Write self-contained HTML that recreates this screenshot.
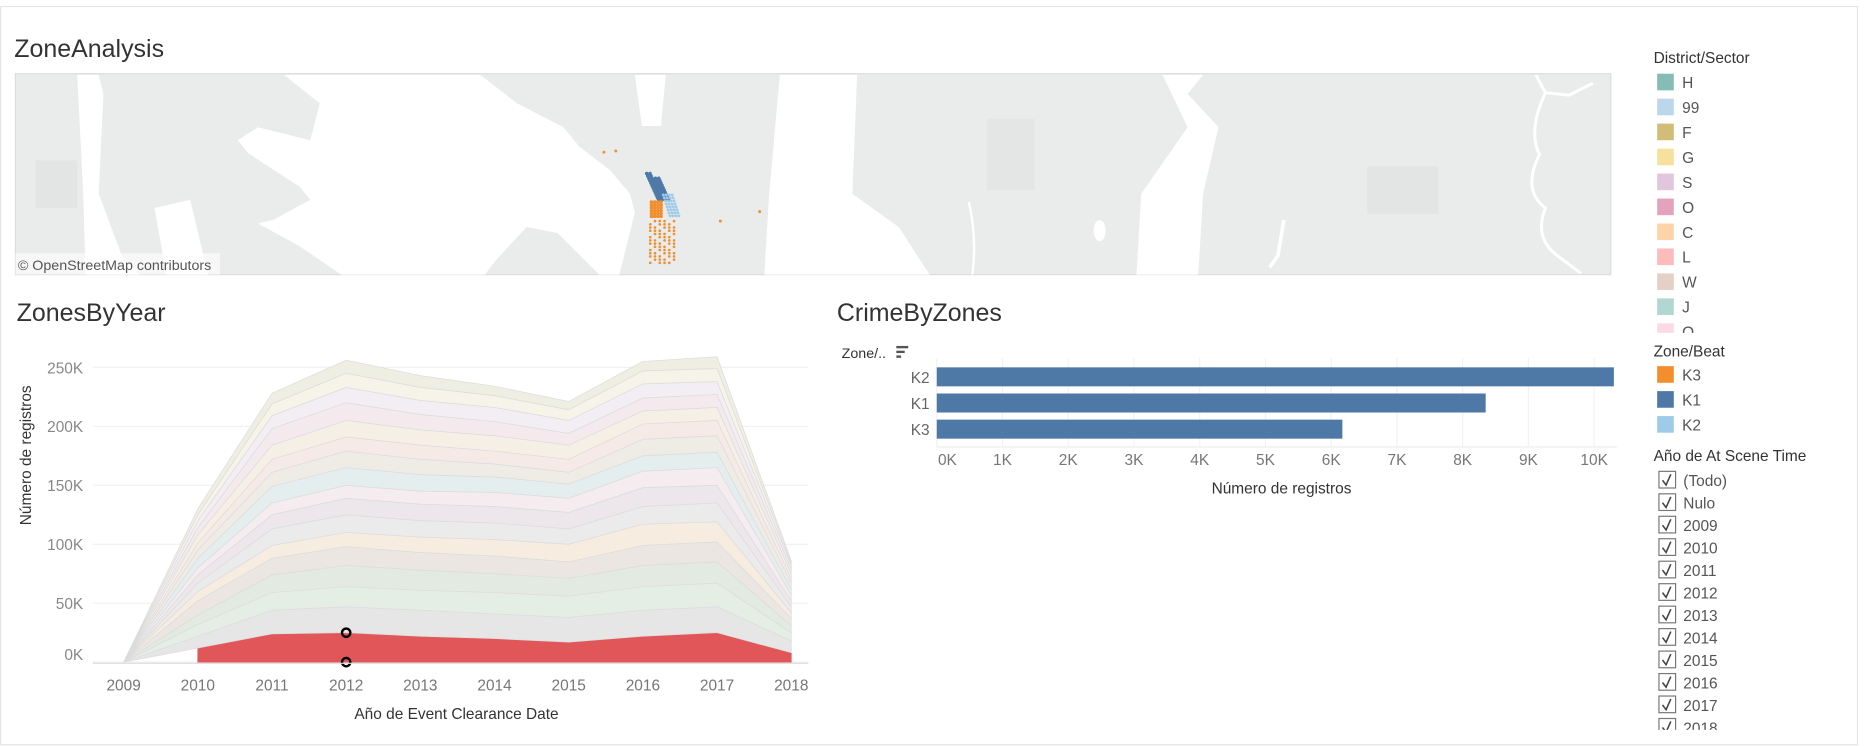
<!DOCTYPE html>
<html><head><meta charset="utf-8">
<style>
html,body{margin:0;padding:0;background:#fff;overflow:hidden}
#wrap{width:1568px;height:628px;transform:scale(1.18878);transform-origin:0 0;position:relative}
svg text{font-family:"Liberation Sans",sans-serif}
</style></head>
<body>
<div id="wrap">
<svg id="s" width="1568" height="628" viewBox="0 0 1568 628" xmlns="http://www.w3.org/2000/svg">
  <rect x="0.5" y="5.5" width="1562" height="621" fill="#fff" stroke="#e4e4e4"/>
  <text x="12" y="48" font-size="21" fill="#333">ZoneAnalysis</text>
  <g>
    <rect x="13" y="62" width="1342" height="169" fill="#eaebeb" stroke="#ddd"/>
    <rect x="30" y="135" width="35" height="40" fill="#e2e5e4"/>
    <rect x="1150" y="140" width="60" height="40" fill="#e2e5e4"/>
    <rect x="830" y="100" width="40" height="60" fill="#e4e6e5"/>
    <path d="M65,63 L83,63 L87,79 L83,163 L104,219 L118,231 L72,231 L70,163 Z" fill="#fff"/>
    <path d="M239,63 L404,63 L435,87 L474,107 L487,123 L513,143 L530,163 L534,179 L521,231 L504,231 L469,196 L443,191 L417,219 L408,231 L287,231 L252,207 L217,188 L230,185 L261,168 L252,157 L209,129 L200,118 L217,107 L261,118 L269,87 Z" fill="#fff"/>
    <path d="M130,175 L160,168 L175,231 L140,231 Z" fill="#fff"/>
    <path d="M534,63 L560,63 L556,106 L540,106 Z" fill="#fff"/>
    <path d="M656,63 L721,63 L717,163 L756,191 L782,231 L643,231 L647,163 Z" fill="#fff"/>
    <path d="M978,63 L1012,63 L999,79 L1025,107 L1012,163 L1008,231 L956,231 L960,163 L999,107 Z" fill="#fff"/>
    <ellipse cx="925" cy="194" rx="5" ry="9" fill="#fff"/>
    <path d="M1080,185 L1075,215 L1068,225" fill="none" stroke="#fff" stroke-width="3"/>
    <path d="M1292,63 L1300,78 L1320,80 L1340,70 M1300,78 Q1285,110 1295,130 Q1280,160 1300,175 Q1290,200 1310,215 L1330,230" fill="none" stroke="#fff" stroke-width="2.5"/>
    <path d="M815,170 Q822,200 818,231" fill="none" stroke="#fff" stroke-width="2"/>
    <g id="dots"></g>
    <rect x="13" y="213" width="172" height="18" fill="#fff" opacity="0.6"/>
    <text x="15" y="227" font-size="12" fill="#555">© OpenStreetMap contributors</text>
  </g>
  <text x="14" y="270" font-size="21" fill="#333">ZonesByYear</text>
  <g id="area"></g>
  <text x="704" y="270" font-size="21" fill="#333">CrimeByZones</text>
  <g id="bar"></g>
  <g id="legend"></g>
</svg>
</div>
<script>
const years=["2009","2010","2011","2012","2013","2014","2015","2016","2017","2018"];
const yTicks=[0,50,100,150,200,250];
const layerColors=["#e15759","#e6e6e6","#e5eee5","#e2eae2","#ebe6e1","#f6ece0","#ebebeb","#ede6ea","#f4ecef","#e5eeee","#efece6","#f6eae7","#f6efe6","#f4eaed","#f2eef3","#f6f4e8","#efeee2"];
const L0=[0,12,24,25,22,20,17,22,25,8];
const L1=[0,10,20,22,22,21,21,22,22,10];
const L2=[0,10,15,17,17,18,18,20,20,7];
const L3=[0,8,15,18,17,16,15,18,18,6];
const L4=[0,12,14,16,15,15,14,17,17,6];
const L5=[0,8,11,12,13,14,15,18,17,5];
const L6=[0,7,14,15,14,14,13,15,16,5];
const L7=[0,7,12,14,14,14,14,16,15,5];
const L8=[0,6,10,11,11,12,12,14,15,5];
const L9=[0,8,14,15,14,13,12,13,13,5];
const L10=[0,7,12,14,13,11,10,14,14,5];
const L11=[0,6,11,12,12,11,11,13,13,4];
const L12=[0,7,12,14,13,13,12,11,11,4];
const L13=[0,6,14,15,13,12,10,11,11,4];
const L14=[0,6,11,13,12,12,11,12,11,3];
const L15=[0,5,10,12,11,10,9,11,11,2];
const L16=[0,5,9,11,10,8,7,8,10,2];
const layers=[L0,L1,L2,L3,L4,L5,L6,L7,L8,L9,L10,L11,L12,L13,L14,L15,L16];
const zones=["K2","K1","K3"];
const zoneValues=[10.3,8.35,6.17];
const xTicksK=[0,1,2,3,4,5,6,7,8,9,10];
const distNames=["H","99","F","G","S","O","C","L","W","J","Q"];
const distColors=["#86bcb6","#bcd7ec","#d1bd78","#f6e09c","#e2c6db","#e3a3bd","#fdd4a8","#fbbcbb","#e4d0c6","#b2d6d1","#fdd9e5"];
const beatNames=["K3","K1","K2"];
const beatColors=["#f28e2b","#4e79a7","#a0cbe8"];
const sceneYears=["(Todo)","Nulo","2009","2010","2011","2012","2013","2014","2015","2016","2017","2018"];

const NS="http://www.w3.org/2000/svg";
function mk(tag,attrs,parent,txt){const e=document.createElementNS(NS,tag);for(const k in attrs)e.setAttribute(k,attrs[k]);if(txt!==undefined)e.textContent=txt;parent.appendChild(e);return e;}

// map dots (decorative cluster)
const dg=document.getElementById('dots');
for(let i=0;i<12;i++){const w=i<2?2:4;for(let j=0;j<w;j++){mk('circle',{cx:544+j*2.8+i*0.9,cy:146+i*2,r:1.5,fill:'#4e79a7'},dg);}}
for(let i=0;i<8;i++)for(let j=0;j<4;j++){mk('circle',{cx:558+j*2.5+i*0.8,cy:164+i*2.5,r:1.2,fill:'#a0cbe8'},dg);}
for(let i=0;i<6;i++)for(let j=0;j<4;j++){mk('circle',{cx:548+j*2.7,cy:170+i*2.4,r:1.5,fill:'#f28e2b'},dg);}
for(let i=0;i<14;i++)for(let j=0;j<6;j++){if((i*3+j)%4===0)continue;mk('circle',{cx:547+j*4,cy:186+i*2.7,r:1.1,fill:'#f28e2b'},dg);}
mk('circle',{cx:508,cy:128,r:1.2,fill:'#f28e2b'},dg);mk('circle',{cx:518,cy:127,r:1.2,fill:'#f28e2b'},dg);mk('circle',{cx:639,cy:178,r:1.2,fill:'#f28e2b'},dg);mk('circle',{cx:606,cy:186,r:1.2,fill:'#f28e2b'},dg);

// area chart
const ag=document.getElementById('area');
const ax0=104,axStep=62.4,ay0=557,ayK=0.992;
const X=i=>ax0+i*axStep, Y=v=>ay0-v*ayK;
const ttl=mk('text',{'font-size':13,fill:'#333','text-anchor':'middle',transform:'translate(26,383) rotate(-90)'},ag,'Número de registros');


yTicks.forEach(t=>{
  const l=mk('line',{x1:78,x2:680,y1:Y(t),y2:Y(t),stroke:'#f0f0f0'},ag);
  
  
  const tx=mk('text',{x:70,y:Y(t)+(t===0?-2:5),'font-size':13,fill:'#888','text-anchor':'end'},ag,t+'K');
  
  
});
let base=years.map(()=>0);
layers.forEach((arr,li)=>{
  const top=base.map((b,i)=>b+arr[i]);
  const start=(li===0)?1:0;
  let d='';
  for(let i=start;i<years.length;i++)d+=(i===start?'M':'L')+X(i)+','+Y(top[i]);
  for(let i=years.length-1;i>=start;i--)d+='L'+X(i)+','+Y(base[i]);
  d+='Z';
  const p=mk('path',{d:d,fill:layerColors[li],stroke:li===0?'#e15759':'#dcdcdc','stroke-width':0.6},ag);
  
  
  base=top;
});
const m1=mk('circle',{cx:X(3),cy:Y(L0[3]),r:3.5,fill:'none',stroke:'#000','stroke-width':2},ag);


const m2=mk('circle',{cx:X(3),cy:Y(0),r:3.5,fill:'none',stroke:'#000','stroke-width':2},ag);


mk('line',{x1:78,x2:680,y1:ay0+1,y2:ay0+1,stroke:'#ddd'},ag);
years.forEach((y,i)=>{
  const t=mk('text',{x:X(i),y:581,'font-size':13,fill:'#777','text-anchor':'middle'},ag,y);
  
  
});
const xt=mk('text',{x:384,y:605,'font-size':13,fill:'#333','text-anchor':'middle'},ag,'Año de Event Clearance Date');



// bar chart
const bg=document.getElementById('bar');
const bx0=788,bK=55.3,by0=309,bStep=22,bH=16;
const BX=v=>bx0+v*bK;
xTicksK.forEach(t=>{
  const l=mk('line',{x1:BX(t),x2:BX(t),y1:301,y2:376,stroke:'#f2f2f2'},bg);
  
  
  const tx=mk('text',{x:t===0?BX(t)+1:BX(t),y:391,'font-size':13,fill:'#777','text-anchor':t===0?'start':'middle'},bg,t+'K');
  
  
});
mk('line',{x1:788,x2:1360,y1:376,y2:376,stroke:'#eee'},bg);
const zh=mk('text',{x:708,y:301,'font-size':12,fill:'#333'},bg,'Zone/..');


const si=mk('g',{},bg);


mk('rect',{x:754,y:291,width:10,height:2,fill:'#555'},si);mk('rect',{x:754,y:295,width:7,height:2,fill:'#555'},si);mk('rect',{x:754,y:299,width:4,height:2,fill:'#555'},si);
zones.forEach((z,i)=>{
  const r=mk('rect',{x:bx0,y:by0+i*bStep,width:BX(zoneValues[i])-bx0,height:bH,fill:'#4e79a7'},bg);
  
  
  const t=mk('text',{x:782,y:by0+i*bStep+13,'font-size':13,fill:'#666','text-anchor':'end'},bg,z);
  
  
});
const bt=mk('text',{x:1078,y:415,'font-size':13,fill:'#333','text-anchor':'middle'},bg,'Número de registros');



// legends
const lg=document.getElementById('legend');
const h1=mk('text',{x:1391,y:53,'font-size':13,fill:'#333'},lg,'District/Sector');


const clipG=mk('g',{},lg);
mk('clipPath',{id:'c1'},lg).appendChild(document.createElementNS(NS,'rect'));
const cr=document.querySelector('#c1 rect');cr.setAttribute('x',1380);cr.setAttribute('y',58);cr.setAttribute('width',180);cr.setAttribute('height',222);
clipG.setAttribute('clip-path','url(#c1)');
distNames.forEach((n,i)=>{
  const y=62+i*21;
  const g=mk('g',{},clipG);
  
  
  mk('rect',{x:1394,y:y,width:14,height:14,fill:distColors[i]},g);
  mk('text',{x:1415,y:y+12,'font-size':13,fill:'#555'},g,n);
});
const h2=mk('text',{x:1391,y:300,'font-size':13,fill:'#333'},lg,'Zone/Beat');


beatNames.forEach((n,i)=>{
  const y=308+i*21;
  const g=mk('g',{},lg);
  
  
  mk('rect',{x:1394,y:y,width:14,height:14,fill:beatColors[i]},g);
  mk('text',{x:1415,y:y+12,'font-size':13,fill:'#555'},g,n);
});
const h3=mk('text',{x:1391,y:388,'font-size':13,fill:'#333'},lg,'Año de At Scene Time');


const clipG2=mk('g',{},lg);
mk('clipPath',{id:'c2'},lg).appendChild(document.createElementNS(NS,'rect'));
const cr2=document.querySelector('#c2 rect');cr2.setAttribute('x',1380);cr2.setAttribute('y',392);cr2.setAttribute('width',180);cr2.setAttribute('height',222);
clipG2.setAttribute('clip-path','url(#c2)');
sceneYears.forEach((n,i)=>{
  const y=396+i*18.9;
  const g=mk('g',{},clipG2);
  
  
  mk('rect',{x:1395.5,y:y+0.5,width:14,height:14,fill:'#fff',stroke:'#777'},g);
  mk('path',{d:`M1398.5,${y+8} L1401.5,${y+12} L1405.5,${y+3}`,fill:'none',stroke:'#444','stroke-width':1.3},g);
  mk('text',{x:1416,y:y+13,'font-size':13,fill:'#555'},g,n);
});
</script>
</body></html>
